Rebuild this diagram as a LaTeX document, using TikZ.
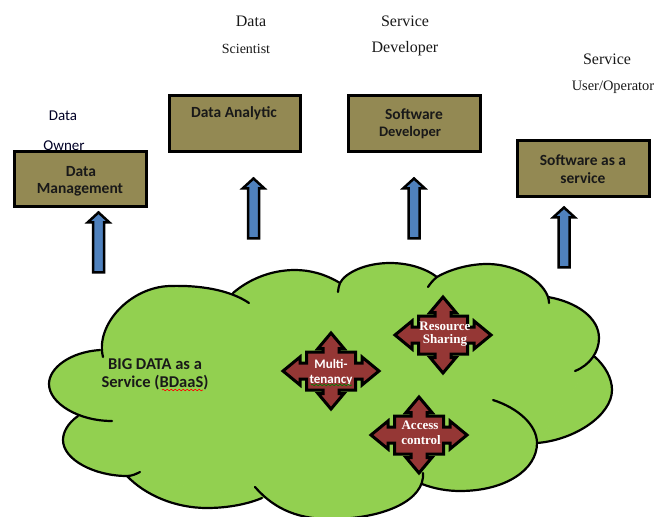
\documentclass[tikz,border=0pt]{standalone}
\usepackage{fontspec}
\setmainfont{Liberation Serif}
\newfontfamily\calfont{Carlito}
\usetikzlibrary{shapes.arrows,decorations.pathmorphing}
\definecolor{boxfill}{HTML}{938953}
\definecolor{cloudfill}{HTML}{92D050}
\definecolor{arrowfill}{HTML}{4F81BD}
\definecolor{crossfill}{HTML}{953735}
\newcommand{\fs}[1]{\fontsize{#1}{#1}\selectfont}
\tikzset{
  box/.style={draw=black,line width=3pt,fill=boxfill},
  boxtext/.style={font=\calfont\fs{15.5}\bfseries,text=black!90,inner sep=0pt},
  role/.style={font=\fs{16},text=black!90,inner sep=0pt},
  rolesans/.style={font=\calfont\fs{15},text=black!85!blue,inner sep=0pt},
  uparrow/.style={single arrow,draw=black,line width=2.5pt,fill=arrowfill,rotate=90,
    minimum height=60pt,minimum width=19pt,inner sep=4.25pt,outer sep=0pt,
    single arrow head extend=5.25pt,single arrow tip angle=95},
  lobe/.style={draw=black,line width=2.2pt,line cap=round,line join=round},
  crosstext/.style={font=\fs{13}\bfseries,text=white,inner sep=0pt},
  crosssans/.style={font=\calfont\fs{13}\bfseries,text=white,inner sep=0pt},
  squiggle/.style={decorate,decoration={snake,amplitude=0.8pt,segment length=4pt},line width=0.6pt},
  pics/quadarrow/.style={code={
    \draw[draw=black,line width=3pt,fill=crossfill,line join=miter]
      (0,-38)--(13,-22.5)--(8,-22.5)--(8,-19)--(24.5,-19)--(24.5,-8)--(31,-8)--(31,-14)--(48,0)
      --(31,14)--(31,8)--(24.5,8)--(24.5,19)--(8,19)--(8,22.5)--(13,22.5)--(0,38)
      --(-13,22.5)--(-8,22.5)--(-8,19)--(-24.5,19)--(-24.5,8)--(-31,8)--(-31,14)--(-48,0)
      --(-31,-14)--(-31,-8)--(-24.5,-8)--(-24.5,-19)--(-8,-19)--(-8,-22.5)--(-13,-22.5)--cycle;
  }}
}
\begin{document}
\begin{tikzpicture}[x=1pt,y=-1pt]
\clip (0,0) rectangle (654,517);
\fill[white] (0,0) rectangle (654,517);
% role labels
\node[rolesans] (ownerA) at (63,116) {Data};
\node[rolesans] (ownerB) at (64,146) {Owner};
\node[role] (sciA) at (251,21) {Data};
\node[role,font=\fs{14}] (sciB) at (246,49) {Scientist};
\node[role] (devA) at (405,21) {Service};
\node[role] (devB) at (405,49) {Developer};
\node[role] (userA) at (607,59) {Service};
\node[role,font=\fs{14.4}] (userB) at (613,87) {User/Operator};
% boxes
\draw[box] (14.5,151.5) rectangle (146.5,206.5);
\draw[box] (169.5,95.5) rectangle (300.5,151.5);
\draw[box] (348.5,95.5) rectangle (480.5,151.5);
\draw[box] (517.5,140.5) rectangle (649.5,196.5);
\node[boxtext] (t1a) at (81,172) {Data};
\node[boxtext] (t1b) at (80,190) {Management};
\node[boxtext] (t2) at (234,113) {Data Analytic};
\node[boxtext] (t3a) at (414,114) {Software};
\node[boxtext,font=\calfont\fs{14.5}\bfseries] (t3b) at (410,133) {Developer};
\node[boxtext] (t4a) at (583,160) {Software as a};
\node[boxtext] (t4b) at (583,178) {service};
% arrows
\node[uparrow] (a1) at (98.5,245) {};
\node[uparrow] (a2) at (253.5,211) {};
\node[uparrow] (a3) at (414,211) {};
\node[uparrow] (a4) at (564,240) {};
% cloud fill
\def\loA{(103,357) .. controls (95,325) and (130,287) .. (170,286) .. controls (200,285) and (230,290) .. (249,303)}
\def\loB{(100,350) .. controls (70,352) and (49,368) .. (49,384) .. controls (49,403) and (78,421) .. (112,421)}
\def\loC{(78,416) .. controls (68,423) and (63,432) .. (63,440) .. controls (63,460) and (95,476) .. (127,476) .. controls (132,476) and (136,474) .. (140,472)}
\def\loD{(127,476) .. controls (145,495) and (175,508) .. (207,508) .. controls (228,508) and (248,504) .. (262,498)}
\def\loE{(255,487) .. controls (275,510) and (300,520) .. (335,519) .. controls (385,518) and (425,500) .. (423,473)}
\def\loF{(422,484) .. controls (435,489) and (448,491) .. (460,491) .. controls (505,491) and (537,470) .. (537,443) .. controls (537,425) and (518,408) .. (493,400)}
\def\loG{(537,443) .. controls (575,440) and (612,415) .. (612,390) .. controls (612,378) and (605,366) .. (595,357)}
\def\loH{(575,371) .. controls (590,365) and (599,352) .. (599,338) .. controls (599,318) and (577,302) .. (548,297)}
\def\loI{(549,303) .. controls (549,285) and (520,264) .. (487,264) .. controls (465,264) and (445,272) .. (437,277) .. controls (433,280) and (430,284) .. (428,287)}
\def\loJ{(437,277) .. controls (425,268) and (408,263) .. (390,263) .. controls (365,263) and (345,273) .. (340,283) .. controls (339,286) and (338,289) .. (338,292)}
\def\loK{(340,283) .. controls (325,274) and (310,270) .. (295,270) .. controls (270,270) and (248,280) .. (233,293)}
\fill[cloudfill,draw=cloudfill,line width=1pt] (100,350)--(78,416)--(127,476)--(262,498)--(422,484)--(537,443)--(595,357)--(548,297)--(437,277)--(340,283)--(233,293)--cycle;
\foreach \l in {\loA,\loB,\loC,\loD,\loE,\loF,\loG,\loH,\loI,\loJ,\loK}{
  \fill[cloudfill,draw=cloudfill,line width=0.6pt] \l;
}
\foreach \l in {\loA,\loB,\loC,\loD,\loE,\loF,\loG,\loH,\loI,\loJ,\loK}{
  \draw[lobe] \l;
}
% cloud label
\node[boxtext,font=\calfont\fs{16.5}\bfseries] (bd1) at (155,364) {BIG DATA as a};
\node[boxtext,font=\calfont\fs{16.5}\bfseries] (bd2) at (155,383) {Service (BDaaS)};
\coordinate (sqA) at (162,390);
\coordinate (sqB) at (203,390);
\draw[red,squiggle] (sqA) -- (sqB);
% four-way arrows
\pic at (331,371) {quadarrow};
\pic at (443,335) {quadarrow};
\pic at (419,435) {quadarrow};
\node[crosssans] (m1) at (331,364) {Multi-};
\node[crosssans] (m2) at (331,380) {tenancy};
\coordinate (sqC) at (311,385);
\coordinate (sqD) at (352,385);
\draw[green!50!black,squiggle] (sqC) -- (sqD);
\node[crosstext] (r1) at (445,326) {Resource};
\node[crosstext] (r2) at (445,340) {Sharing};
\node[crosstext] (c1) at (420,425) {Access};
\node[crosstext] (c2) at (421,440) {control};
\end{tikzpicture}
\end{document}
